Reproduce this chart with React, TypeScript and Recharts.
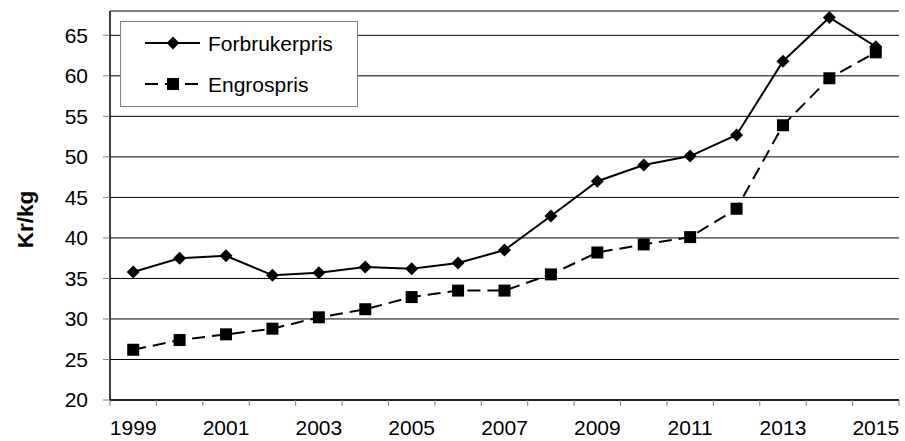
import React from 'react';
import { LineChart, Line, XAxis, YAxis, CartesianGrid, Legend } from 'recharts';

const years = ['1999', '2000', '2001', '2002', '2003', '2004', '2005', '2006', '2007', '2008', '2009', '2010', '2011', '2012', '2013', '2014', '2015'];
const forbrukerpris = [35.8, 37.5, 37.8, 35.4, 35.7, 36.4, 36.2, 36.9, 38.5, 42.7, 47.0, 49.0, 50.1, 52.7, 61.8, 67.2, 63.6];
const engrospris = [26.2, 27.4, 28.1, 28.8, 30.2, 31.2, 32.7, 33.5, 33.5, 35.5, 38.2, 39.2, 40.1, 43.6, 53.9, 59.7, 62.9];
const yTicks = [20, 25, 30, 35, 40, 45, 50, 55, 60, 65];
const yDomain = [20, 68];
const seriesNames = ['Forbrukerpris', 'Engrospris'];

const data = years.map((year, i) => ({
  year,
  forbrukerpris: forbrukerpris[i],
  engrospris: engrospris[i],
}));

const W = 905;
const H = 441;
const LEFT = 110;
const RIGHT = 6;
const TOP = 11;
const XH = 41;
const PLOT_W = W - LEFT - RIGHT;
const BW = PLOT_W / years.length;
const FONT = '"Liberation Sans", Arial, sans-serif';

const Diamond = (props: any) => {
  const { cx, cy } = props;
  if (cx == null || cy == null) return null;
  const r = 6.5;
  return <polygon points={`${cx},${cy - r} ${cx + r},${cy} ${cx},${cy + r} ${cx - r},${cy}`} fill="#000" />;
};

const Square = (props: any) => {
  const { cx, cy } = props;
  if (cx == null || cy == null) return null;
  const s = 12;
  return <rect x={cx - s / 2} y={cy - s / 2} width={s} height={s} fill="#000" />;
};

const XTick = (props: any) => {
  const { x, y, index } = props;
  const last = index === years.length - 1;
  return (
    <g>
      <line x1={x - BW / 2} x2={x - BW / 2} y1={y} y2={y + 6} stroke="#808080" strokeWidth={1} />
      {last && <line x1={x + BW / 2} x2={x + BW / 2} y1={y} y2={y + 6} stroke="#808080" strokeWidth={1} />}
      {index % 2 === 0 && (
        <text x={x} y={y + 35} textAnchor="middle" fontSize={21} fontFamily={FONT} fill="#000">
          {years[index]}
        </text>
      )}
    </g>
  );
};

const YLabel = (props: any) => {
  const { viewBox } = props;
  const cx = 25;
  const cy = viewBox.y + viewBox.height / 2 + 14;
  return (
    <text x={cx} y={cy} transform={`rotate(-90, ${cx}, ${cy})`} textAnchor="middle" dominantBaseline="central" fontSize={22.5} fontWeight="bold" fontFamily={FONT} fill="#000">
      Kr/kg
    </text>
  );
};

const LegendBox = () => (
  <svg width={238} height={86} style={{ display: 'block' }}>
    <rect x={0.5} y={0.5} width={237} height={85} fill="#fff" stroke="#808080" strokeWidth={1} />
    <line x1={25} x2={80} y1={22} y2={22} stroke="#000" strokeWidth={2} />
    <Diamond cx={53} cy={22} />
    <text x={88} y={29.5} fontSize={21} fontFamily={FONT} fill="#000">{seriesNames[0]}</text>
    <line x1={25} x2={80} y1={63} y2={63} stroke="#000" strokeWidth={2} strokeDasharray="13 7" />
    <Square cx={53} cy={63} />
    <text x={88} y={70.5} fontSize={21} fontFamily={FONT} fill="#000">{seriesNames[1]}</text>
  </svg>
);

export default function App() {
  return (
    <div style={{ position: 'absolute', left: 0, top: 0, width: W, height: H, background: '#fff' }}>
      <LineChart width={W} height={H} data={data} margin={{ top: TOP, right: RIGHT, bottom: 0, left: 0 }}>
        <CartesianGrid vertical={false} stroke="#000" strokeWidth={1} />
        <XAxis
          dataKey="year"
          height={XH}
          padding={{ left: BW / 2, right: BW / 2 }}
          interval={0}
          tickLine={false}
          tickSize={0}
          tickMargin={0}
          tick={<XTick />}
          stroke="#000"
          axisLine={{ stroke: '#000', strokeWidth: 1.5 }}
        />
        <XAxis xAxisId="top" orientation="top" dataKey="year" height={0} tick={false} tickLine={false} axisLine={{ stroke: '#a6a6a6', strokeWidth: 1.5 }} />
        <YAxis
          width={LEFT}
          domain={yDomain}
          ticks={yTicks}
          interval={0}
          allowDataOverflow
          tickSize={7}
          tickMargin={15}
          tickLine={{ stroke: '#808080' }}
          axisLine={{ stroke: '#000', strokeWidth: 1.5 }}
          tick={{ fontSize: 21, fontFamily: FONT, fill: '#000' }}
          label={<YLabel />}
        />
        <YAxis yAxisId="right" orientation="right" width={0} domain={yDomain} tick={false} tickLine={false} axisLine={{ stroke: '#a6a6a6', strokeWidth: 1.5 }} />
        <Legend
          layout="vertical"
          align="center"
          verticalAlign="middle"
          content={<LegendBox />}
          wrapperStyle={{ position: 'absolute', left: 120, top: 21, width: 238, height: 86 }}
        />
        <Line
          dataKey="engrospris"
          name={seriesNames[1]}
          stroke="#000"
          strokeWidth={2}
          strokeDasharray="13 7"
          dot={<Square />}
          activeDot={false}
          isAnimationActive={false}
        />
        <Line
          dataKey="forbrukerpris"
          name={seriesNames[0]}
          stroke="#000"
          strokeWidth={2}
          dot={<Diamond />}
          activeDot={false}
          isAnimationActive={false}
        />
      </LineChart>
    </div>
  );
}
